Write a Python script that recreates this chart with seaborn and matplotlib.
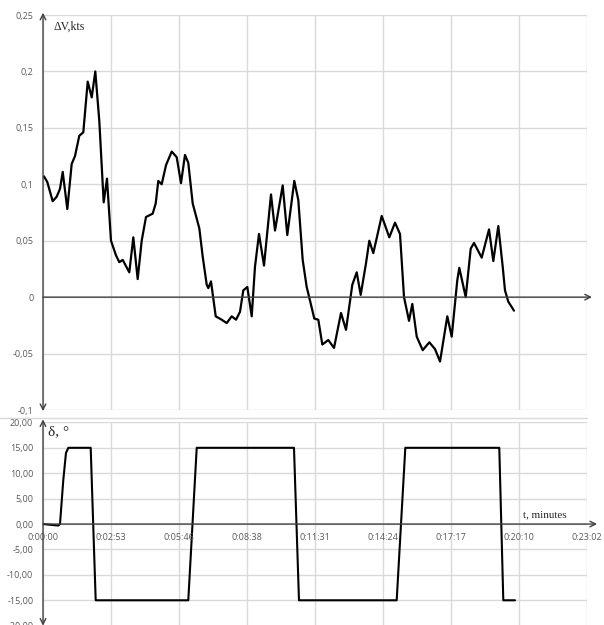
import matplotlib.pyplot as plt
import seaborn as sns
from matplotlib.lines import Line2D

sns.set_style("white")

# speed deviation dV (kts) vs time in seconds
dv_time = [2.5, 10.9, 24.6, 34.8, 43.2, 50.1, 61.8, 72.9, 81.3, 92.2, 102.4, 113.6,
           123.8, 132.9, 143.1, 154.2, 162.6, 172.8, 185.5, 193.9, 202.5, 219.3,
           229.5, 240.6, 250.8, 261.7, 278.8, 286.4, 293.0, 301.6, 312.6, 327.1,
           339.8, 350.7, 360.8, 369.2, 380.4, 397.2, 405.8, 416.0, 420.1, 426.9,
           438.9, 454.1, 466.8, 479.5, 490.5, 500.6, 509.0, 519.2, 530.4, 538.7,
           548.9, 561.6, 579.4, 589.6, 609.1, 620.8, 638.6, 648.8, 659.9, 670.1,
           678.5, 689.4, 699.6, 709.8, 725.0, 739.5, 757.3, 770.0, 786.0, 797.2,
           807.3, 820.8, 829.2, 839.4, 860.7, 880.0, 894.5, 907.2, 917.4, 930.1,
           938.5, 949.7, 964.9, 981.7, 996.1, 1008.9, 1027.4, 1038.6, 1052.8,
           1057.9, 1074.2, 1086.9, 1095.3, 1114.8, 1133.4, 1144.3, 1157.0, 1168.2,
           1174.0, 1182.4, 1196.9]
dv_value = [0.107, 0.102, 0.085, 0.089, 0.096, 0.111, 0.078, 0.118, 0.125, 0.143,
            0.146, 0.191, 0.177, 0.200, 0.156, 0.084, 0.105, 0.050, 0.037, 0.031,
            0.033, 0.022, 0.053, 0.016, 0.050, 0.071, 0.074, 0.083, 0.103, 0.100,
            0.117, 0.129, 0.124, 0.101, 0.126, 0.119, 0.083, 0.061, 0.036, 0.011,
            0.008, 0.014, -0.017, -0.020, -0.023, -0.017, -0.020, -0.013, 0.006,
            0.009, -0.017, 0.027, 0.056, 0.028, 0.091, 0.059, 0.099, 0.055, 0.103,
            0.086, 0.033, 0.009, -0.003, -0.019, -0.020, -0.042, -0.038, -0.045,
            -0.014, -0.029, 0.011, 0.022, 0.002, 0.030, 0.050, 0.039, 0.072, 0.053,
            0.066, 0.056, 0.000, -0.021, -0.006, -0.035, -0.047, -0.040, -0.046,
            -0.057, -0.017, -0.035, 0.015, 0.026, 0.000, 0.043, 0.048, 0.035, 0.060,
            0.032, 0.063, 0.027, 0.006, -0.004, -0.012]

# rudder angle delta (deg)
rudder_time = [0, 38.9, 43.2, 51.6, 58.4, 64.3, 121.2, 133.9, 369.2, 390.6, 637.8,
               650.5, 898.8, 920.7, 1159.5, 1169.7, 1199.4]
rudder_angle = [0, -0.3, 0, 8.7, 14, 15, 15, -15, -15, 15, 15, -15, -15, 15, 15, -15, -15]

t_ticks = [0, 172.8, 345.6, 518.4, 691.2, 864.0, 1036.8, 1209.6, 1382.4]
t_labels = ["0:00:00", "0:02:53", "0:05:46", "0:08:38", "0:11:31",
            "0:14:24", "0:17:17", "0:20:10", "0:23:02"]
dv_ticks = [0.25, 0.2, 0.15, 0.1, 0.05, 0, -0.05, -0.1]
dv_labels = ["0,25", "0,2", "0,15", "0,1", "0,05", "0", "-0,05", "-0,1"]
rudder_ticks = [20, 15, 10, 5, 0, -5, -10, -15, -20]
rudder_labels = ["20,00", "15,00", "10,00", "5,00", "0,00", "-5,00", "-10,00", "-15,00", "-20,00"]

W, H = 604, 625
grid_col = "#d9d9d9"
lab_col = "#595959"
axis_col = "#404040"
tick_font = "Open Sans"
serif = "Liberation Serif"

fig = plt.figure(figsize=(W / 100, H / 100), dpi=100)
ax1 = fig.add_axes([43 / W, 1 - 410 / H, 544 / W, 395 / H])
ax2 = fig.add_axes([43 / W, 1 - 625.7 / H, 544 / W, 203.3 / H])

# --- top panel: speed deviation
sns.lineplot(x=dv_time, y=dv_value, ax=ax1, color="black", lw=1.6, sort=False)
ax1.set_xlim(0, 1382.4)
ax1.set_ylim(-0.1, 0.25)
ax1.set_xticks(t_ticks)
ax1.set_xticklabels([])
ax1.set_yticks(dv_ticks)
ax1.set_yticklabels(dv_labels, fontfamily=tick_font)

# --- bottom panel: rudder angle
sns.lineplot(x=rudder_time, y=rudder_angle, ax=ax2, color="black", lw=1.5, sort=False)
ax2.set_xlim(0, 1382.4)
ax2.set_ylim(-20, 20)
ax2.set_xticks(t_ticks)
ax2.set_xticklabels([])
ax2.set_yticks(rudder_ticks)
ax2.set_yticklabels(rudder_labels, fontfamily=tick_font)
for t, lbl in zip(t_ticks, t_labels):
    ax2.text(t, -2.6, lbl, ha="center", va="center", fontsize=6.5,
             color=lab_col, fontfamily=tick_font)

for ax in (ax1, ax2):
    ax.grid(True, color=grid_col, lw=1)
    ax.set_xlabel("")
    ax.set_ylabel("")
    ax.tick_params(length=0, labelsize=6.5, labelcolor=lab_col, pad=7)
    for s in ax.spines.values():
        s.set_visible(False)

# axis arrows (Excel-style axes crossing at zero)
arrow = dict(arrowstyle="->", color=axis_col, lw=1, shrinkA=0, shrinkB=0)
arrow2 = dict(arrowstyle="<->", color=axis_col, lw=1, shrinkA=0, shrinkB=0)
ax1.annotate("", xy=(1395, 0), xytext=(0, 0), arrowprops=arrow, annotation_clip=False)
ax1.annotate("", xy=(0, 0.252), xytext=(0, -0.101), arrowprops=arrow2, annotation_clip=False)
ax2.annotate("", xy=(1408, 0), xytext=(0, 0), arrowprops=arrow, annotation_clip=False)
ax2.annotate("", xy=(0, 20.6), xytext=(0, -20), arrowprops=arrow2, annotation_clip=False)

# separator between the two charts
fig.add_artist(Line2D([0, 587 / W], [1 - 418 / H] * 2, color=grid_col, lw=1))

fig.text(53 / W, 1 - 27 / H, "ΔV,kts", fontfamily=serif, fontsize=8.5, va="center")
fig.text(48 / W, 1 - 432 / H, "δ, °", fontfamily=serif, fontsize=11, va="center")
fig.text(523 / W, 1 - 515 / H, "t, minutes", fontfamily=serif, fontsize=8, va="center")

fig.savefig("out.png", dpi=100)
